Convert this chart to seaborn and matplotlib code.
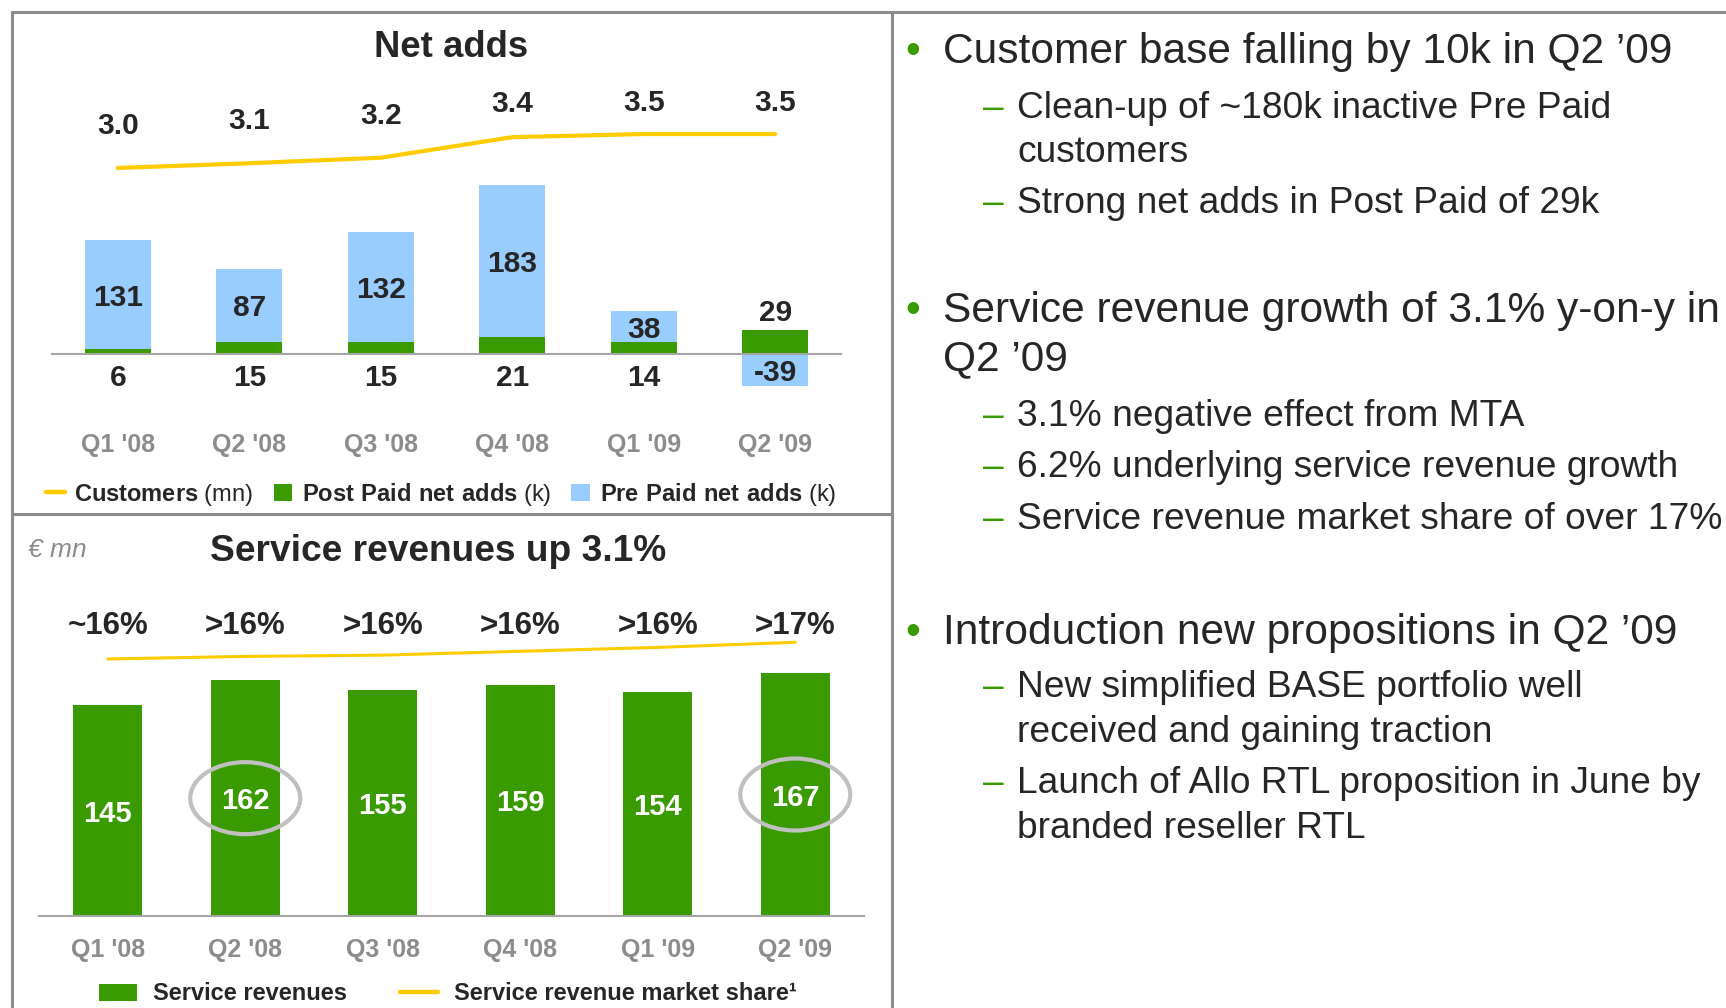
import numpy as np
import matplotlib
matplotlib.use("Agg")
import matplotlib.pyplot as plt
from matplotlib.lines import Line2D
from matplotlib.patches import Patch, Ellipse
import seaborn as sns

# ── Data ────────────────────────────────────────────────────────────────────
quarters = ["Q1 '08", "Q2 '08", "Q3 '08", "Q4 '08", "Q1 '09", "Q2 '09"]
post_paid = [6, 15, 15, 21, 14, 29]          # k
pre_paid = [131, 87, 132, 183, 38, -39]      # k
customers = [3.03, 3.09, 3.16, 3.42, 3.46, 3.46]  # mn (line)
service_rev = [145, 162, 155, 159, 154, 167]  # € mn
share_line = [15.9, 16.1, 16.2, 16.5, 16.8, 17.2]  # % (line)
share_labels = ["~16%", ">16%", ">16%", ">16%", ">16%", ">17%"]
circled = ["Q2 '08", "Q2 '09"]

bullet_lines = [
    ("main", "Customer base falling by 10k in Q2 ’09", 63),
    ("sub", "Clean-up of ~180k inactive Pre Paid", 118),
    ("sub_cont", "customers", 162),
    ("sub", "Strong net adds in Post Paid of 29k", 213),
    ("main", "Service revenue growth of 3.1% y-on-y in", 322),
    ("main_cont", "Q2 ’09", 370),
    ("sub", "3.1% negative effect from MTA", 426),
    ("sub", "6.2% underlying service revenue growth", 477),
    ("sub", "Service revenue market share of over 17%", 529),
    ("main", "Introduction new propositions in Q2 ’09", 644),
    ("sub", "New simplified BASE portfolio well", 697),
    ("sub_cont", "received and gaining traction", 742),
    ("sub", "Launch of Allo RTL proposition in June by", 793),
    ("sub_cont", "branded reseller RTL", 838),
]

# ── Style ───────────────────────────────────────────────────────────────────
GREEN = "#399B00"
BLUE = "#99CCFF"
YELLOW = "#FFCC00"
GREY_TXT = "#8C8C8C"
GREY_AX = "#A6A6A6"
FRAME = "#8C8C8C"
RING = "#C0C0C0"

sns.set_style("white")
plt.rcParams["font.family"] = ["Liberation Sans", "DejaVu Sans"]
plt.rcParams["mathtext.fontset"] = "custom"
plt.rcParams["mathtext.rm"] = "Liberation Sans"
plt.rcParams["mathtext.bf"] = "Liberation Sans:bold"

W, H, DPI = 1726, 1008, 100
fig = plt.figure(figsize=(W / DPI, H / DPI), dpi=DPI)


def px(x, y):
    return x / W, 1 - y / H


def add_axes(x0, y0, x1, y1):
    return fig.add_axes([x0 / W, 1 - y1 / H, (x1 - x0) / W, (y1 - y0) / H])


def style_xaxis(ax, pad):
    ax.set_xlim(-0.5, 5.5)
    ax.set_yticks([])
    ax.set_xlabel("")
    ax.set_ylabel("")
    for s in ["top", "right", "left"]:
        ax.spines[s].set_visible(False)
    ax.spines["bottom"].set_color(GREY_AX)
    ax.spines["bottom"].set_linewidth(1.5)
    ax.set_xticks(np.arange(-0.5, 6, 1), minor=True)
    ax.tick_params(axis="x", which="major", length=0, pad=pad, labelsize=18, labelcolor=GREY_TXT)
    ax.tick_params(axis="x", which="minor", length=5.8, width=1.2, color=GREY_AX)
    for lbl in ax.get_xticklabels():
        lbl.set_fontweight("bold")


LBL = dict(ha="center", va="center_baseline", fontweight="bold")

# ── Panel 1: Net adds ───────────────────────────────────────────────────────
ax = add_axes(52, 40, 841, 420)
sns.barplot(x=quarters, y=post_paid, color=GREEN, width=0.5, saturation=1,
            errorbar=None, linewidth=0, ax=ax)
pre_bottom = [p if q >= 0 else 0 for p, q in zip(post_paid, pre_paid)]
sns.barplot(x=quarters, y=pre_paid, bottom=pre_bottom, color=BLUE, width=0.5,
            saturation=1, errorbar=None, linewidth=0, ax=ax)
ax.set_ylim(-79.5, 378.3)
ax.spines["bottom"].set_position(("data", 0))
style_xaxis(ax, pad=56.7)

for i, (p, q, b) in enumerate(zip(post_paid, pre_paid, pre_bottom)):
    ax.text(i, b + q / 2, f"{q}", fontsize=21.5, **LBL)
    if q >= 0:
        ax.annotate(f"{p}", (i, 0), xytext=(0, -15), textcoords="offset points",
                    fontsize=21.5, **LBL)
    else:
        ax.annotate(f"{p}", (i, p), xytext=(0, 14), textcoords="offset points",
                    fontsize=21.5, **LBL)

ax2 = ax.twinx()
sns.lineplot(x=np.arange(len(quarters)), y=customers, color=YELLOW, lw=3,
             solid_capstyle="round", ax=ax2)
ax2.set_ylim(-0.16, 4.65)
ax2.axis("off")
for i, v in enumerate(customers):
    lift = 32.5 - 30 * max(0.0, v - 3.2)   # labels sit closer once the line flattens
    ax2.annotate(f"{v:.1f}", (i, v), xytext=(0, lift), textcoords="offset points",
                 fontsize=21.5, **LBL)

fig.text(*px(451, 57), "Net adds", ha="center", va="baseline", fontsize=26.3, fontweight="bold")

top_handles = [Line2D([], [], color=YELLOW, lw=3.2),
               Patch(facecolor=GREEN, edgecolor="none"),
               Patch(facecolor=BLUE, edgecolor="none")]
top_labels = [r"$\mathbf{Customers}$ (mn)",
              r"$\mathbf{Post\ Paid\ net\ adds}$ (k)",
              r"$\mathbf{Pre\ Paid\ net\ adds}$ (k)"]
fig.legend(top_handles, top_labels, loc="center left", bbox_to_anchor=px(46, 494),
           ncol=3, frameon=False, fontsize=17, handlelength=0.8, handletextpad=0.4,
           columnspacing=0.85, borderpad=0, borderaxespad=0)

# ── Panel 2: Service revenues ───────────────────────────────────────────────
bx = add_axes(39, 600, 864, 916)
sns.barplot(x=quarters, y=service_rev, color=GREEN, width=0.5, saturation=1,
            errorbar=None, linewidth=0, ax=bx)
bx.set_ylim(0, 217.2)
style_xaxis(bx, pad=16)

for i, (q, v) in enumerate(zip(quarters, service_rev)):
    bx.text(i, v / 2, f"{v}", color="white", fontsize=21, **LBL)
    if q in circled:
        bx.add_patch(Ellipse((i, v / 2), width=0.8, height=49.5, fill=False,
                             edgecolor=RING, lw=3, zorder=4))

bx2 = bx.twinx()
sns.lineplot(x=np.arange(len(quarters)), y=share_line, color=YELLOW, lw=2.2,
             solid_capstyle="round", ax=bx2)
bx2.set_ylim(-4.1, 20.49)
bx2.axis("off")
for i, t in enumerate(share_labels):
    bx.text(i, 0.929, t, transform=bx.get_xaxis_transform(), fontsize=22.5, **LBL)

fig.text(*px(438.5, 561), "Service revenues up 3.1%", ha="center", va="baseline",
         fontsize=26.7, fontweight="bold")
fig.text(*px(28, 557), "€ mn", ha="left", va="baseline", fontsize=19,
         style="italic", color=GREY_TXT)

bot_handles = [Patch(facecolor=GREEN, edgecolor="none"), Line2D([], [], color=YELLOW, lw=3.2)]
bot_labels = ["Service revenues", "Service revenue market share\u00b9"]
fig.legend(bot_handles, bot_labels, loc="center left", bbox_to_anchor=px(99, 994),
           ncol=2, frameon=False, prop={"size": 17, "weight": "bold"}, handlelength=1.6,
           handletextpad=0.68, columnspacing=2.25, borderpad=0, borderaxespad=0)

# ── Right panel: bullet text ────────────────────────────────────────────────
for kind, txt, base in bullet_lines:
    if kind == "main":
        fig.text(*px(905, base), "\u2022", color=GREEN, fontsize=30.6, va="baseline")
    if kind in ("main", "main_cont"):
        fig.text(*px(943, base), txt, fontsize=30.6, va="baseline")
    else:
        if kind == "sub":
            fig.text(*px(983, base), "\u2013", color=GREEN, fontsize=26.7, va="baseline")
        fig.text(*px(1017, base), txt, fontsize=26.7, va="baseline")

# ── Frame lines ─────────────────────────────────────────────────────────────
frame = [((12, 12), (1726, 12)), ((12, 12), (12, 1008)),
         ((892, 12), (892, 1008)), ((12, 514), (892, 514))]
for (x0, y0), (x1, y1) in frame:
    fig.add_artist(Line2D([x0 / W, x1 / W], [1 - y0 / H, 1 - y1 / H],
                          transform=fig.transFigure, color=FRAME, lw=2.2))

fig.savefig("out.png", dpi=DPI)
